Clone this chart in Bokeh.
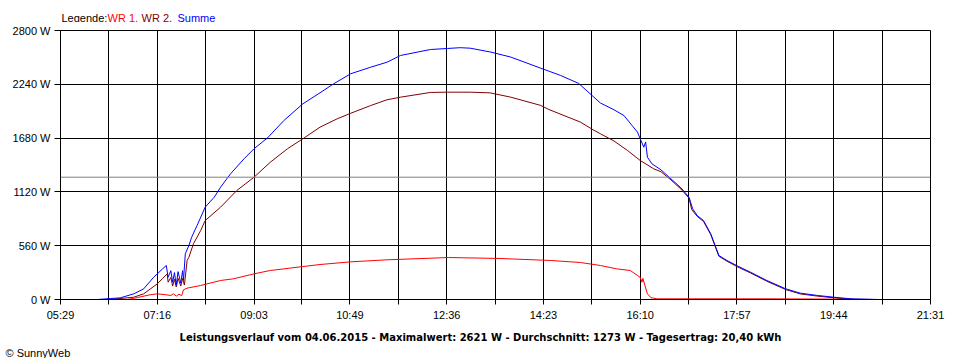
from bokeh.plotting import figure
from bokeh.models import Range1d, FixedTicker, Span, ColumnDataSource, Title
from bokeh.layouts import column
from bokeh.core.properties import value
from bokeh.embed import file_html
from bokeh.resources import INLINE

# ---- data (time in minutes since midnight, power in W) ----
wr1_t = [403, 414, 428, 436, 445, 451, 454, 457, 460, 463, 465, 469, 484, 506, 520, 543, 561, 597, 616,
         650, 690, 758, 815, 871, 904, 926, 944, 959, 967, 970, 972, 973, 976, 978, 982, 989, 1114, 1202, 1208]
wr1_w = [0, 20, 49, 59, 50, 42, 60, 35, 55, 40, 101, 118, 146, 198, 215, 267, 302, 343, 364,
         392, 413, 437, 427, 406, 385, 354, 319, 302, 250, 230, 180, 220, 120, 59, 18, 7, 7, 3, 0]

wr2_t = [384, 410, 421, 436, 442, 447, 448, 451, 453, 455, 457, 459, 462, 464, 466, 469, 471, 476, 484, 489,
         506, 524, 543, 561, 580, 597, 616, 635, 650, 672, 690, 705, 738, 757, 782, 804, 827, 860, 869, 904,
         918, 926, 941, 956, 970, 985, 993, 1004, 1015, 1024, 1027, 1033, 1040, 1048, 1057, 1066, 1078, 1092,
         1110, 1131, 1147, 1166, 1184, 1202, 1230]
wr2_w = [0, 24, 59, 163, 220, 267, 180, 230, 140, 210, 130, 220, 140, 219, 150, 406, 440, 580, 718, 822,
         961, 1135, 1273, 1429, 1569, 1673, 1794, 1881, 1939, 2019, 2079, 2106, 2155, 2158, 2158, 2151, 2106, 2020, 1978, 1846,
         1766, 1725, 1650, 1551, 1447, 1360, 1330, 1245, 1150, 1055, 935, 866, 812, 676, 450, 398, 338, 276,
         190, 103, 58, 35, 18, 3, 0]

sum_t = [370, 384, 395, 410, 421, 432, 436, 442, 446, 448, 451, 453, 455, 457, 459, 462, 464, 465, 467, 471,
         474, 480, 489, 499, 506, 517, 532, 543, 558, 576, 597, 617, 631, 650, 672, 690, 705, 738, 757, 771,
         782, 805, 827, 860, 882, 902, 926, 941, 952, 961, 967, 970, 974, 976, 978, 983, 993, 1004, 1015, 1024,
         1028, 1033, 1040, 1048, 1057, 1066, 1078, 1092, 1110, 1131, 1147, 1166, 1184, 1203, 1234]
sum_w = [0, 10, 17, 59, 111, 232, 267, 320, 354, 232, 300, 180, 280, 150, 290, 170, 300, 200, 476, 562,
         648, 770, 961, 1065, 1169, 1308, 1465, 1569, 1683, 1863, 2037, 2158, 2245, 2350, 2418, 2470, 2540, 2602, 2613, 2621,
         2616, 2575, 2523, 2408, 2332, 2249, 2045, 1975, 1915, 1811, 1742, 1673, 1585, 1640, 1481, 1412, 1350, 1256, 1163, 1065,
         944, 874, 822, 684, 458, 406, 347, 284, 198, 111, 66, 42, 24, 7, 0]

x_tick_minutes = [329, 436, 543, 649, 756, 863, 970, 1077, 1184, 1291]
x_tick_labels = ["05:29", "07:16", "09:03", "10:49", "12:36", "14:23", "16:10", "17:57", "19:44", "21:31"]
y_ticks = [0, 560, 1120, 1680, 2240, 2800]
y_tick_labels = ["0 W", "560 W", "1120 W", "1680 W", "2240 W", "2800 W"]
average_w = 1273
legend_texts = ["Legende:", "WR 1,", "WR 2,", "Summe"]
legend_colors = ["#000000", "#ff0000", "#800000", "#0000ff"]
title_text = "Leistungsverlauf vom 04.06.2015 - Maximalwert: 2621 W - Durchschnitt: 1273 W - Tagesertrag: 20,40 kWh"
copyright_text = "© SunnyWeb"

FONT = "Liberation Sans"
W = 952

# ---- top strip: legend (frame is aligned with the chart frame: 60..930 px) ----
top = figure(output_backend="svg", toolbar_location=None, width=W, height=22,
             x_range=Range1d(60, 930), y_range=Range1d(22, 0), min_border=0,
             x_axis_type=None, y_axis_type=None, outline_line_color=None)
top.grid.visible = False
leg_src = ColumnDataSource(dict(x=[61, 107, 141, 177], y=[17] * 4, t=legend_texts, c=legend_colors))
top.text(x="x", y="y", text="t", text_color="c", source=leg_src, text_font=value(FONT),
         text_font_size="11px", text_baseline="middle", text_align="left")

# ---- main chart ----
p = figure(output_backend="svg", toolbar_location=None,
           frame_width=870, frame_height=269,
           min_border_left=60, min_border_top=8, min_border_right=22, min_border_bottom=25,
           x_range=Range1d(329, 1291), y_range=Range1d(0, 2800),
           background_fill_color="white", border_fill_color="white")
p.outline_line_color = "black"

mids = [(a + b) / 2 for a, b in zip(x_tick_minutes[:-1], x_tick_minutes[1:])]
all_x = sorted(x_tick_minutes + mids)
p.xaxis.ticker = FixedTicker(ticks=all_x)
ov = {m: "" for m in mids}
ov.update({m: l for m, l in zip(x_tick_minutes, x_tick_labels)})
p.xaxis.major_label_overrides = ov
p.xaxis.minor_tick_line_color = None
p.xaxis.major_tick_out = 5
p.xaxis.major_tick_in = 0
p.xaxis.major_label_standoff = 4

p.yaxis.ticker = FixedTicker(ticks=y_ticks)
p.yaxis.major_label_overrides = {v: l for v, l in zip(y_ticks, y_tick_labels)}
p.yaxis.minor_tick_line_color = None
p.yaxis.major_tick_out = 6
p.yaxis.major_tick_in = 0
p.yaxis.major_label_standoff = 4

for ax in (p.xaxis, p.yaxis):
    ax.axis_line_color = "black"
    ax.major_tick_line_color = "black"
    ax.major_label_text_font = FONT
    ax.major_label_text_font_size = "11px"
    ax.major_label_text_color = "black"

for g in (p.xgrid, p.ygrid):
    g.grid_line_color = "black"
    g.grid_line_alpha = 1.0
    g.grid_line_width = 1

p.add_layout(Span(location=average_w, dimension="width", line_color="#808080", line_width=1))

p.line(wr1_t, wr1_w, line_color="#ff0000", line_width=1)
p.line(wr2_t, wr2_w, line_color="#800000", line_width=1)
p.line(sum_t, sum_w, line_color="#0000ff", line_width=1)

# ---- bottom strip: title and copyright ----
bottom = figure(output_backend="svg", toolbar_location=None, width=W,
                frame_height=20, min_border=0,
                x_range=Range1d(60, 930), y_range=Range1d(344, 324),
                x_axis_type=None, y_axis_type=None, outline_line_color=None)
bottom.grid.visible = False
bottom.text(x=[480], y=[337], text=[title_text], text_color="black", text_font=value("DejaVu Sans"),
            text_font_size="10px", text_font_style="bold", text_baseline="middle", text_align="center")
bottom.add_layout(Title(text=copyright_text, align="left", offset=-55, standoff=0,
                        text_font=FONT, text_font_size="11px", text_font_style="normal",
                        text_color="black"), "below")

layout = column(top, p, bottom, spacing=0)
open("out.html", "w").write(file_html(layout, INLINE))
